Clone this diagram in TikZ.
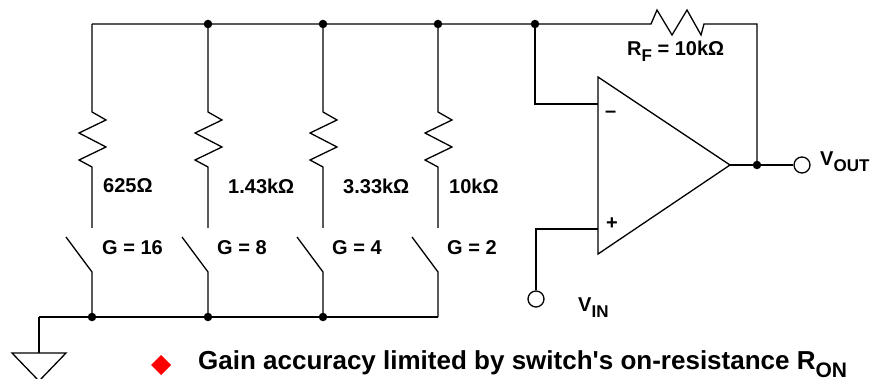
\documentclass[tikz,border=0pt]{standalone}
\usepackage{fontspec}
\setmainfont{Liberation Sans}
\begin{document}
\begin{tikzpicture}[x=1pt,y=-1pt,
  wire/.style={line width=1.3pt,line join=miter},
  dot/.style={circle,fill=black,inner sep=0pt,minimum size=8.5pt},
  term/.style={circle,draw,line width=1.3pt,fill=white,inner sep=0pt,minimum size=16pt},
  lbl/.style={font=\fontsize{20}{20}\selectfont\bfseries,inner sep=0pt,anchor=west},
  big/.style={font=\fontsize{26}{28}\selectfont\bfseries,inner sep=0pt,anchor=west}]
\useasboundingbox (0,0) rectangle (872,379);

% top rail coordinates
\coordinate (tl) at (92,24);
\coordinate (t2) at (208,24);
\coordinate (t3) at (323,24);
\coordinate (t4) at (438,24);
\coordinate (tj) at (535,24);
\coordinate (rfa) at (651,24);
\coordinate (rfb) at (704,24);
\coordinate (tr) at (757,24);
% bottom rail
\coordinate (gl) at (39,317);
\coordinate (b1) at (92,317);
\coordinate (b2) at (208,317);
\coordinate (b3) at (323,317);
\coordinate (b4) at (438,317);

% op amp
\coordinate (oa1) at (598,77);
\coordinate (oa2) at (598,254);
\coordinate (oout) at (730,165);
\coordinate (oinm) at (598,104);
\coordinate (oinp) at (598,229);
\coordinate (oj) at (757,165);

% bottom rail
\draw[wire] (gl) -- (b4);

% top rail with feedback resistor
\draw[wire] (tl) -- (rfa) -- ++(6,-14) -- ++(15,25) -- ++(15,-25) -- ++(14,25) -- (rfb) -- (tr) -- (oj);

% resistors and switches (each branch)
\foreach \X in {92,208,323,438}{
  \draw[wire] (\X,24) -- (\X,112) -- (\X+14,120) -- (\X-13,133) -- (\X+14,147) -- (\X-13,160) -- (\X,167) -- (\X,228);
  \draw[wire] (\X-26,237) -- (\X,272) -- (\X,317);
}

% op-amp
\draw[wire,fill=white] (oa1) -- (oa2) -- (oout) -- cycle;
\draw[wire] (tj) -- (tj |- oinm) -- (oinm);
\node[term] (vin) at (536,299) {};
\draw[wire] (vin) -- (536,229) -- (oinp);
\node[term] (vout) at (802,165) {};
\draw[wire] (oout) -- (vout);

% dots
\foreach \c in {t2,t3,t4,tj,b1,b2,b3,oj}{ \node[dot] at (\c) {}; }

% ground
\draw[wire] (gl) -- (39,353);
\draw[wire] (12,353) -- (66,353) -- (39,381) -- cycle;

% labels
\node[lbl] (l1) at (103,186) {625Ω};
\node[lbl] (l2) at (228,186) {1.43kΩ};
\node[lbl] (l3) at (343,186) {3.33kΩ};
\node[lbl] (l4) at (449,186) {10kΩ};
\node[lbl] (g1) at (102,248) {G = 16};
\node[lbl] (g2) at (217,248) {G = 8};
\node[lbl] (g3) at (332,248) {G = 4};
\node[lbl] (g4) at (447,248) {G = 2};
\node[lbl] (rf) at (627,51) {R\raisebox{-0.3em}{\fontsize{17}{17}\selectfont F} = 10kΩ};
\node[lbl] (minus) at (605,114) {–};
\node[lbl] (plus) at (606,224) {+};
\node[lbl] (vo) at (820,162) {V\raisebox{-0.3em}{\fontsize{17}{17}\selectfont OUT}};
\node[lbl] (vi) at (578,308) {V\raisebox{-0.3em}{\fontsize{17}{17}\selectfont IN}};

% bullet
\fill[red] (161,355) -- (171,365) -- (161,375) -- (151,365) -- cycle;
\node[big] (txt) at (198,364) {Gain accuracy limited by switch\textquotesingle s on-resistance R\raisebox{-0.3em}{\fontsize{21}{21}\selectfont ON}};
\end{tikzpicture}
\end{document}
